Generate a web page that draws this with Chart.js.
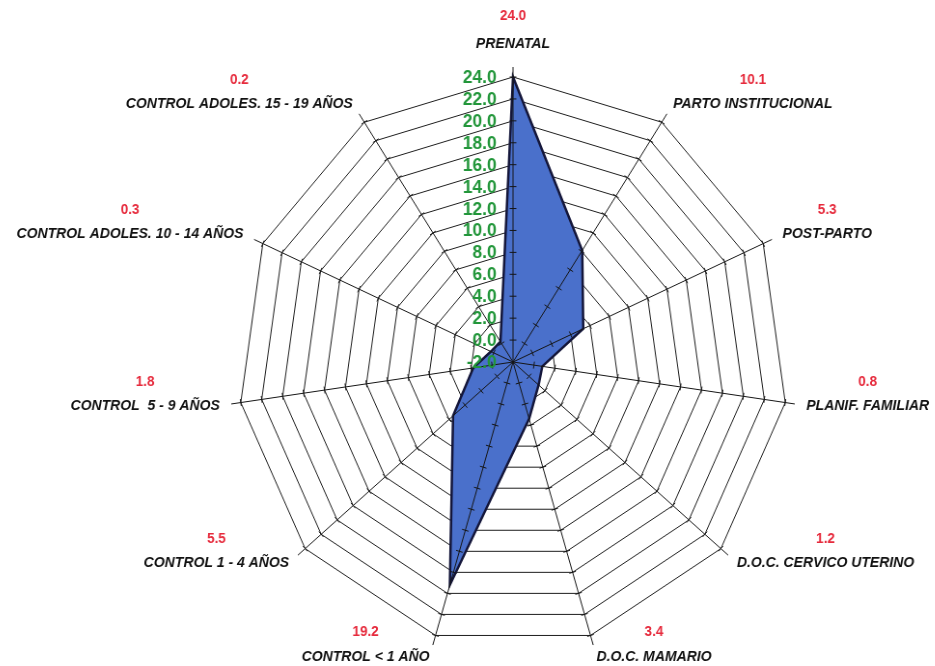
<!DOCTYPE html>
<html>
<head>
<meta charset="utf-8">
<script src="https://cdn.jsdelivr.net/npm/chart.js@4/dist/chart.umd.min.js"></script>
<style>
  html, body { margin: 0; padding: 0; background: #ffffff; }
  #frame { width: 935px; height: 666px; position: relative; overflow: hidden; }
  #wrap { position: absolute; left: -20px; top: 0; width: 980px; height: 666px;
          transform: scaleX(0.965); transform-origin: 533px 0; }
</style>
</head>
<body>
<div id="frame"><div id="wrap"><canvas id="radar"></canvas></div></div>
<script>
// Coverage per programme (clockwise from the top)
const categories = [
  'PRENATAL',
  'PARTO INSTITUCIONAL',
  'POST-PARTO',
  'PLANIF. FAMILIAR',
  'D.O.C. CERVICO UTERINO',
  'D.O.C. MAMARIO',
  'CONTROL < 1 AÑO',
  'CONTROL 1 - 4 AÑOS',
  'CONTROL  5 - 9 AÑOS',
  'CONTROL ADOLES. 10 - 14 AÑOS',
  'CONTROL ADOLES. 15 - 19 AÑOS'
];
const coverage = [24.0, 10.1, 5.3, 0.8, 1.2, 3.4, 19.2, 5.5, 1.8, 0.3, 0.2];

// Radial axis range and step
const scaleMin = -2;
const scaleMax = 24;
const scaleStep = 2;

const LABEL_FONT = 'italic bold 14.5px "Liberation Sans", Arial, sans-serif';
const VALUE_FONT = 'bold 14px "Liberation Sans", Arial, sans-serif';
const TICK_FONT = 'bold 18px "Liberation Sans", Arial, sans-serif';

// Draws spokes with tick marks over the filled area, the category
// labels with their values, and the green radial tick labels.
const radarDecor = {
  id: 'radarDecor',
  afterDatasetsDraw(chart) {
    const s = chart.scales.r;
    const ctx = chart.ctx;
    const R = s.drawingArea;
    const cx = s.xCenter, cy = s.yCenter;

    ctx.save();
    ctx.strokeStyle = '#151515';
    ctx.lineWidth = 1;
    categories.forEach((_, i) => {
      const a = s.getIndexAngle(i) - Math.PI / 2;
      const ux = Math.cos(a), uy = Math.sin(a);
      ctx.beginPath();
      ctx.moveTo(cx, cy);
      ctx.lineTo(cx + ux * (R + 10), cy + uy * (R + 10));
      ctx.stroke();
      s.ticks.forEach(t => {
        const d = s.getDistanceFromCenterForValue(t.value);
        if (d <= 0) return;
        const px = cx + ux * d, py = cy + uy * d;
        ctx.beginPath();
        ctx.moveTo(px - uy * 3.5, py + ux * 3.5);
        ctx.lineTo(px + uy * 3.5, py - ux * 3.5);
        ctx.stroke();
      });
    });

    // category labels and their values
    categories.forEach((name, i) => {
      const a = s.getIndexAngle(i) - Math.PI / 2;
      const ux = Math.cos(a), uy = Math.sin(a);
      const vx = cx + ux * R, vy = cy + uy * R;
      ctx.font = LABEL_FONT;
      const w = ctx.measureText(name).width;
      let lx, ly, centerX;
      if (Math.abs(ux) < 0.05 && uy < 0) {
        lx = vx; ly = vy - 33; centerX = vx;
        ctx.textAlign = 'center';
      } else {
        lx = vx + ux * 22; ly = vy + uy * 22;
        if (ux >= 0) { ctx.textAlign = 'left'; centerX = lx + w / 2; }
        else { ctx.textAlign = 'right'; centerX = lx - w / 2; }
      }
      ctx.textBaseline = 'middle';
      ctx.fillStyle = '#111111';
      ctx.fillText(name, lx, ly);
      ctx.font = VALUE_FONT;
      ctx.textAlign = 'center';
      ctx.fillStyle = '#e62a3c';
      ctx.fillText(coverage[i].toFixed(1), centerX, ly - (i === 0 ? 28 : 24));
    });

    // radial tick labels along the top spoke
    ctx.font = TICK_FONT;
    ctx.textAlign = 'right';
    ctx.textBaseline = 'middle';
    ctx.fillStyle = '#22963a';
    s.ticks.forEach(t => {
      const d = s.getDistanceFromCenterForValue(t.value);
      ctx.fillText(t.value.toFixed(1), cx - 17, cy - d + 1);
    });
    ctx.restore();
  }
};

new Chart(document.getElementById('radar'), {
  type: 'radar',
  data: {
    labels: categories,
    datasets: [{
      data: coverage,
      backgroundColor: '#4a70cb',
      borderColor: '#14163a',
      borderWidth: 2.5,
      pointRadius: 0,
      fill: 'start'
    }]
  },
  options: {
    responsive: true,
    maintainAspectRatio: false,
    animation: false,
    layout: { padding: { top: 77, bottom: 19, left: 248, right: 162 } },
    plugins: {
      legend: { display: false },
      tooltip: { enabled: false }
    },
    scales: {
      r: {
        min: scaleMin,
        max: scaleMax,
        ticks: { stepSize: scaleStep, display: false },
        grid: { color: '#1c1c1c', lineWidth: 1, circular: false },
        angleLines: { display: false },
        pointLabels: { display: false }
      }
    }
  },
  plugins: [radarDecor]
});
</script>
</body>
</html>
